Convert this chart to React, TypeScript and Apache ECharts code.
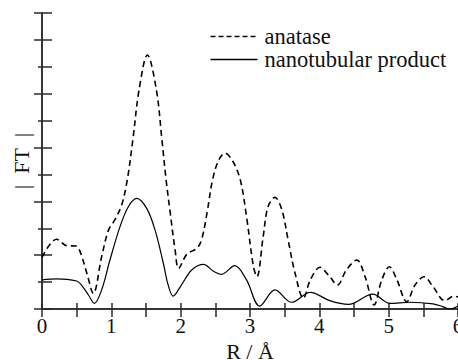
import React, { useEffect, useRef } from "react";
import * as echarts from "echarts";

const anataseR = [0, 0.1, 0.21, 0.36, 0.49, 0.55, 0.65, 0.74, 0.86, 0.96, 1.05, 1.15, 1.23, 1.31, 1.4, 1.52, 1.65, 1.73, 1.79, 1.85, 1.92, 1.97, 2.09, 2.23, 2.3, 2.38, 2.46, 2.55, 2.64, 2.75, 2.86, 2.95, 3.05, 3.1, 3.19, 3.26, 3.36, 3.46, 3.55, 3.65, 3.77, 3.87, 4.01, 4.15, 4.26, 4.39, 4.54, 4.66, 4.79, 4.9, 5.01, 5.12, 5.26, 5.38, 5.51, 5.64, 5.81, 5.94, 6.0];
const anataseFT = [1.92, 2.35, 2.59, 2.35, 2.34, 2.13, 1.3, 0.58, 1.94, 2.94, 3.31, 3.87, 4.8, 6.28, 8.14, 9.44, 8.14, 6.28, 4.8, 3.56, 2.19, 1.51, 2.04, 2.25, 2.56, 3.57, 4.8, 5.54, 5.79, 5.5, 4.8, 3.43, 1.57, 1.2, 2.69, 3.8, 4.15, 3.68, 2.56, 1.33, 0.4, 1.08, 1.55, 1.2, 0.89, 1.45, 1.82, 1.2, 0.15, 1.08, 1.57, 1.08, 0.27, 0.89, 1.2, 0.83, 0.31, 0.48, 0.45];

const nanoR = [0, 0.21, 0.5, 0.57, 0.67, 0.755, 0.86, 0.98, 1.125, 1.245, 1.365, 1.51, 1.63, 1.75, 1.82, 1.89, 2.01, 2.16, 2.33, 2.47, 2.59, 2.78, 2.95, 3.14, 3.36, 3.6, 3.87, 4.15, 4.42, 4.77, 5.02, 5.31, 5.64, 5.78, 5.88, 6.0];
const nanoFT = [1.08, 1.12, 1.04, 0.89, 0.52, 0.21, 0.71, 1.82, 3.06, 3.8, 4.11, 3.74, 2.94, 1.7, 0.89, 0.48, 0.89, 1.45, 1.66, 1.41, 1.29, 1.61, 1.08, 0.11, 0.71, 0.25, 0.62, 0.31, 0.17, 0.55, 0.21, 0.25, 0.19, 0.09, 0.0, 0.11];

const seriesNames = ["anatase", "nanotubular product"];
const xLabel = "R / Å";
const yLabel = "|\u00A0\u00A0FT\u00A0\u00A0|";

const FONT = "Liberation Serif";
const AXIS_COLOR = "#2a2a2a";
const TEXT_COLOR = "#111";

export default function App() {
  const ref = useRef<HTMLDivElement>(null);
  useEffect(() => {
    if (!ref.current) return;
    const chart = echarts.init(ref.current, undefined, { renderer: "svg" });
    const pair = (xs: number[], ys: number[]) => xs.map((x, i) => [x, ys[i]]);
    const axisLine = { show: true, lineStyle: { color: AXIS_COLOR, width: 1.5 } };
    const legendItem = (i: number, dash: number[] | null) => ({
      type: "group",
      left: 208,
      top: 25 + i * 23,
      children: [
        {
          type: "line",
          shape: { x1: 0, y1: 13, x2: 47, y2: 13 },
          style: { stroke: "#000", lineWidth: 1.5, lineDash: dash || undefined },
        },
        {
          type: "text",
          x: 54,
          y: 13,
          style: {
            text: seriesNames[i],
            fontFamily: FONT,
            fontSize: 22.5,
            fill: TEXT_COLOR,
            verticalAlign: "middle",
            align: "left",
          },
        },
      ],
    });
    chart.setOption({
      animation: false,
      backgroundColor: "#fff",
      textStyle: { fontFamily: FONT },
      grid: { left: 42, right: 0, top: 13, bottom: 51, containLabel: false, outerBoundsMode: "none" },
      graphic: [legendItem(0, [5, 3]), legendItem(1, null)],
      xAxis: [
        {
          type: "value",
          min: 0,
          max: 6,
          interval: 0.5,
          position: "bottom",
          axisLine,
          axisTick: { show: true, inside: true, length: 6, lineStyle: { color: AXIS_COLOR, width: 1.5 } },
          splitLine: { show: false },
          axisLabel: {
            show: true,
            margin: 6,
            fontFamily: FONT,
            fontSize: 21,
            color: TEXT_COLOR,
            hideOverlap: false,
            showMaxLabel: true,
            formatter: (v: number) => (Number.isInteger(v) ? String(v) : ""),
          },
          name: xLabel,
          nameLocation: "middle",
          nameGap: 30,
          nameTextStyle: { fontFamily: FONT, fontSize: 22, color: TEXT_COLOR },
        },
        {
          type: "value",
          min: 0,
          max: 6,
          interval: 0.5,
          position: "top",
          axisLine,
          axisTick: { show: true, inside: true, length: 8, lineStyle: { color: AXIS_COLOR, width: 1.5 } },
          splitLine: { show: false },
          axisLabel: { show: false },
        },
      ],
      yAxis: [
        {
          type: "value",
          min: 0,
          max: 11,
          interval: 1,
          position: "left",
          axisLine,
          axisTick: { show: true, inside: true, length: 10, lineStyle: { color: AXIS_COLOR, width: 1.5 } },
          splitLine: { show: false },
          axisLabel: { show: false },
          name: yLabel,
          nameLocation: "middle",
          nameGap: 10,
          nameRotate: 90,
          nameTextStyle: { fontFamily: FONT, fontSize: 22, color: TEXT_COLOR },
        },
        {
          type: "value",
          min: 0,
          max: 11,
          interval: 2,
          position: "right",
          axisLine,
          axisTick: { show: true, inside: true, length: 8, lineStyle: { color: AXIS_COLOR, width: 1.5 } },
          minorTick: { show: true, splitNumber: 2, length: 4, lineStyle: { color: AXIS_COLOR, width: 1.5 } },
          splitLine: { show: false },
          axisLabel: { show: false },
        },
      ],
      series: [
        {
          name: seriesNames[0],
          type: "line",
          xAxisIndex: 0,
          yAxisIndex: 0,
          data: pair(anataseR, anataseFT),
          symbol: "none",
          smooth: 0.35,
          lineStyle: { color: "#000", width: 1.6, type: [6, 4] },
          itemStyle: { color: "#000" },
        },
        {
          name: seriesNames[1],
          type: "line",
          xAxisIndex: 0,
          yAxisIndex: 0,
          data: pair(nanoR, nanoFT),
          symbol: "none",
          smooth: 0.35,
          lineStyle: { color: "#000", width: 1.2, type: "solid" },
          itemStyle: { color: "#000" },
        },
      ],
    });
    return () => chart.dispose();
  }, []);
  return <div ref={ref} style={{ width: 458, height: 360, position: "absolute", left: 0, top: 0 }} />;
}
